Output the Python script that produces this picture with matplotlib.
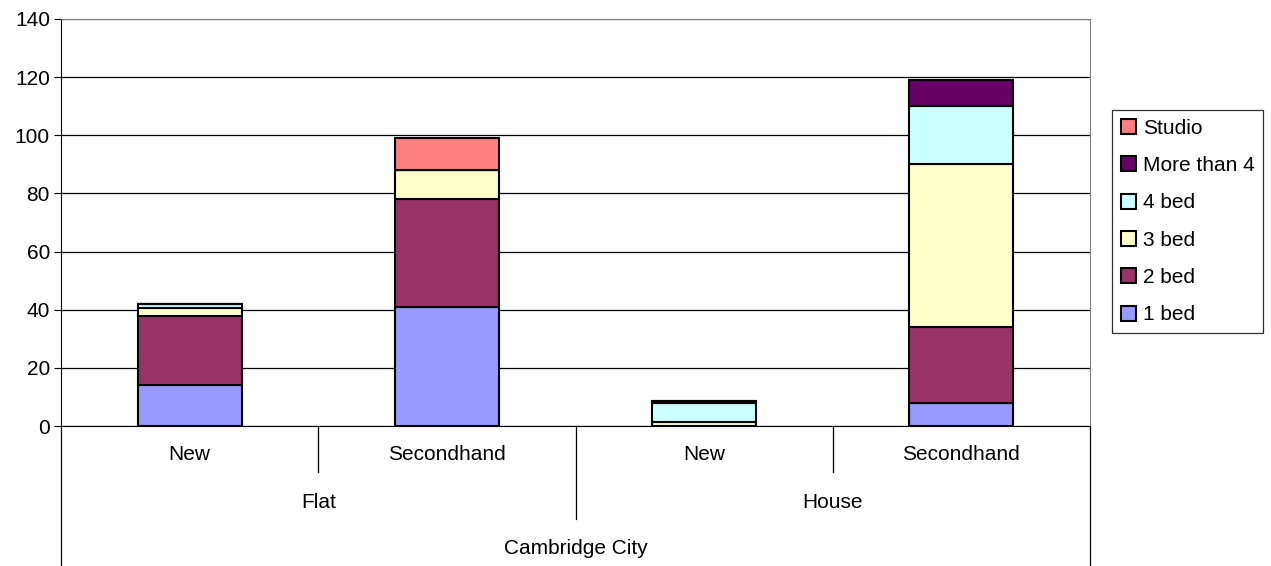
import numpy as np
import matplotlib
matplotlib.use("Agg")
import matplotlib.pyplot as plt
from matplotlib.patches import Patch

plt.rcParams['font.family'] = ['Liberation Sans', 'DejaVu Sans']

# categories (inner level, outer level, top level)
sub_labels = ["New", "Secondhand", "New", "Secondhand"]
type_labels = ["Flat", "House"]
area_label = "Cambridge City"

series = ["1 bed", "2 bed", "3 bed", "4 bed", "More than 4", "Studio"]
colors = ["#9999FF", "#993366", "#FFFFCC", "#CCFFFF", "#660066", "#FF8080"]

one_bed = [14, 41, 0, 8]
two_bed = [24, 37, 0, 26]
three_bed = [2.5, 10, 1.5, 56]
four_bed = [1.5, 0, 6.5, 20]
more_than_4 = [0, 0, 0.5, 9]
studio = [0, 11, 0, 0]
values = [one_bed, two_bed, three_bed, four_bed, more_than_4, studio]

FS = 15

fig = plt.figure(figsize=(12.71, 5.66), dpi=100)
ax = fig.add_axes([61 / 1271, 1 - 426 / 566, (1090 - 61) / 1271, (426 - 19) / 566])

x = np.arange(len(sub_labels))
bottom = np.zeros(len(sub_labels))
for name, vals, col in zip(series, values, colors):
    vals = np.array(vals, dtype=float)
    ax.bar(x, vals, width=0.405, bottom=bottom, color=col, edgecolor="black",
           linewidth=1.5, zorder=3)
    bottom += vals

ax.set_xlim(-0.5, 3.5)
ax.set_ylim(0, 140)
ax.set_yticks(range(0, 141, 20))
ax.tick_params(axis="y", labelsize=FS, length=5, direction="out", pad=3)
ax.set_xticks([])
ax.yaxis.grid(True, color="black", linewidth=0.9, zorder=0)

for side in ["top", "right"]:
    ax.spines[side].set_color("#808080")
ax.spines["left"].set_color("black")
ax.spines["bottom"].set_color("black")

# multi-level category axis below the plot
tr = ax.get_xaxis_transform()
bottom_y = -(566 - 426) / 407
ax.plot([-0.5, -0.5], [0, bottom_y], transform=tr, color="black", lw=0.9, clip_on=False)
ax.plot([3.5, 3.5], [0, bottom_y], transform=tr, color="black", lw=0.9, clip_on=False)
for sep in [0.5, 2.5]:
    ax.plot([sep, sep], [0, -46 / 407], transform=tr, color="black", lw=0.9, clip_on=False)
ax.plot([1.5, 1.5], [0, -93 / 407], transform=tr, color="black", lw=0.9, clip_on=False)

for xi, lab in zip(x, sub_labels):
    ax.text(xi, -29 / 407, lab, transform=tr, ha="center", va="center", fontsize=FS)
for i, lab in enumerate(type_labels):
    ax.text(2 * i + 0.5, -76 / 407, lab, transform=tr, ha="center", va="center", fontsize=FS)
ax.text(1.5, -123 / 407, area_label, transform=tr, ha="center", va="center", fontsize=FS)

handles = [Patch(facecolor=c, edgecolor="black", linewidth=1.5) for c in colors]
leg = fig.legend(handles[::-1], series[::-1], loc="upper left",
                 bbox_to_anchor=(1112 / 1271, 1 - 110 / 566), fontsize=FS,
                 frameon=True, fancybox=False, edgecolor="black",
                 handlelength=0.75, handleheight=0.75, handletextpad=0.3,
                 labelspacing=0.88, borderpad=0.42, borderaxespad=0)
leg.get_frame().set_linewidth(0.9)

fig.savefig("out.png", dpi=100)
